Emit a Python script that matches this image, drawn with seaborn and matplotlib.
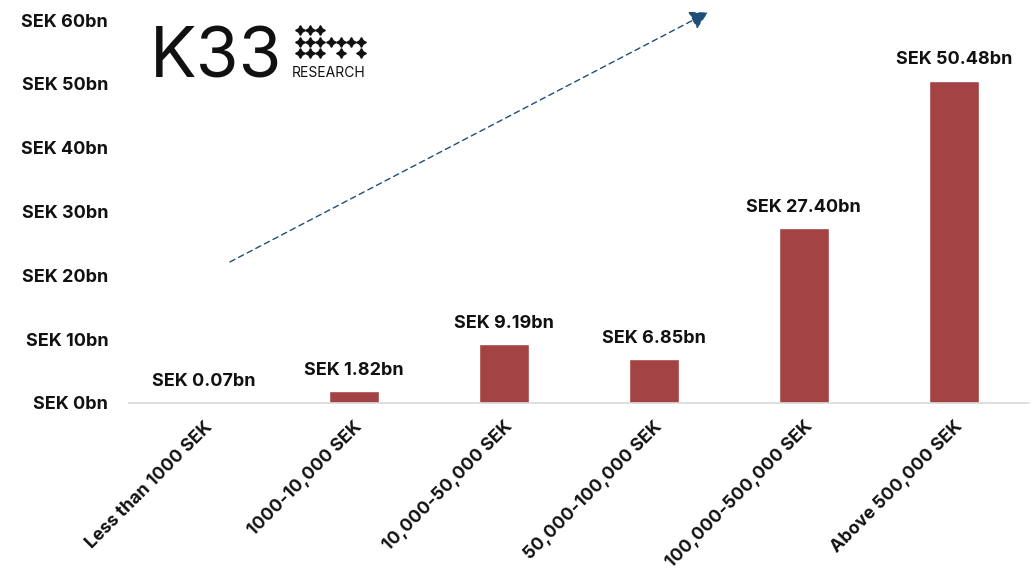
import matplotlib
matplotlib.use("Agg")
import matplotlib.pyplot as plt
import seaborn as sns
import pandas as pd

categories = ["Less than 1000 SEK", "1000-10,000 SEK", "10,000-50,000 SEK",
              "50,000-100,000 SEK", "100,000-500,000 SEK", "Above 500,000 SEK"]
values = [0.07, 1.82, 9.19, 6.85, 27.40, 50.48]
yticks = [0, 10, 20, 30, 40, 50, 60]

sns.set_theme(style="white")
plt.rcParams['font.family'] = ['Inter', 'DejaVu Sans']

df = pd.DataFrame({"cat": categories, "val": values})

fig = plt.figure(figsize=(10.33, 5.74), dpi=100)
ax = fig.add_axes([0.1249, 0.298, 0.871, 0.667])
sns.barplot(data=df, x="cat", y="val", color="#A34343", width=0.333, ax=ax, saturation=1)

FS = 13
ax.set_xlim(-0.5, 5.5)
ax.set_ylim(0, 60)
ax.set_yticks(yticks)
ax.set_yticklabels([f"SEK {v}bn" for v in yticks], fontsize=FS, fontweight="bold", color="#111111")
ax.set_xticks(range(len(categories)))
ax.set_xticklabels(categories, rotation=45, ha="right", rotation_mode="anchor",
                   fontsize=12.8, fontweight="bold", color="#111111")
ax.tick_params(axis="y", length=0, pad=15)
ax.tick_params(axis="x", length=0, pad=11)
ax.set_xlabel("")
ax.set_ylabel("")
for s in ["top", "right", "left"]:
    ax.spines[s].set_visible(False)
ax.spines["bottom"].set_color("#d9d9d9")
ax.spines["bottom"].set_linewidth(1.2)

for i, v in enumerate(values):
    ax.annotate(f"SEK {v:.2f}bn", (i, v), xytext=(0, 9), textcoords="offset points",
                ha="center", va="bottom", fontsize=FS, fontweight="bold", color="#111111")

# trend arrow
ax.annotate("", xy=(3.36, 61.2), xytext=(0.173, 22.1), xycoords="data",
            arrowprops=dict(arrowstyle="-|>,head_length=0.9,head_width=0.5", linestyle=(0, (4, 3)),
                            color="#1F4E79", lw=1.0, shrinkA=0, shrinkB=0),
            annotation_clip=False)

# logo
fig.text(150/1033, 1 - 77/574, "K33", fontsize=50, color="#111111", ha="left", va="baseline",
         family=["Inter", "DejaVu Sans"], fontweight="normal")
fig.text(292/1033, 1 - 77/574, "RESEARCH", fontsize=10, color="#111111", ha="left", va="baseline")
pattern = [(0, 0), (1, 0), (2, 0),
           (0, 1), (1, 1), (2, 1), (3, 1), (4, 1), (5, 1), (6, 1),
           (0, 2), (1, 2), (2, 2), (4, 2), (6, 2)]
xs = [(300 + c * 10.2) / 1033 for c, r in pattern]
ys = [1 - (30 + r * 11.5) / 574 for c, r in pattern]
fig.add_artist(plt.Line2D(xs, ys, transform=fig.transFigure, linestyle="none",
                          marker=(4, 1, 0), markersize=7, color="#111111"))

fig.savefig("out.png", dpi=100)
